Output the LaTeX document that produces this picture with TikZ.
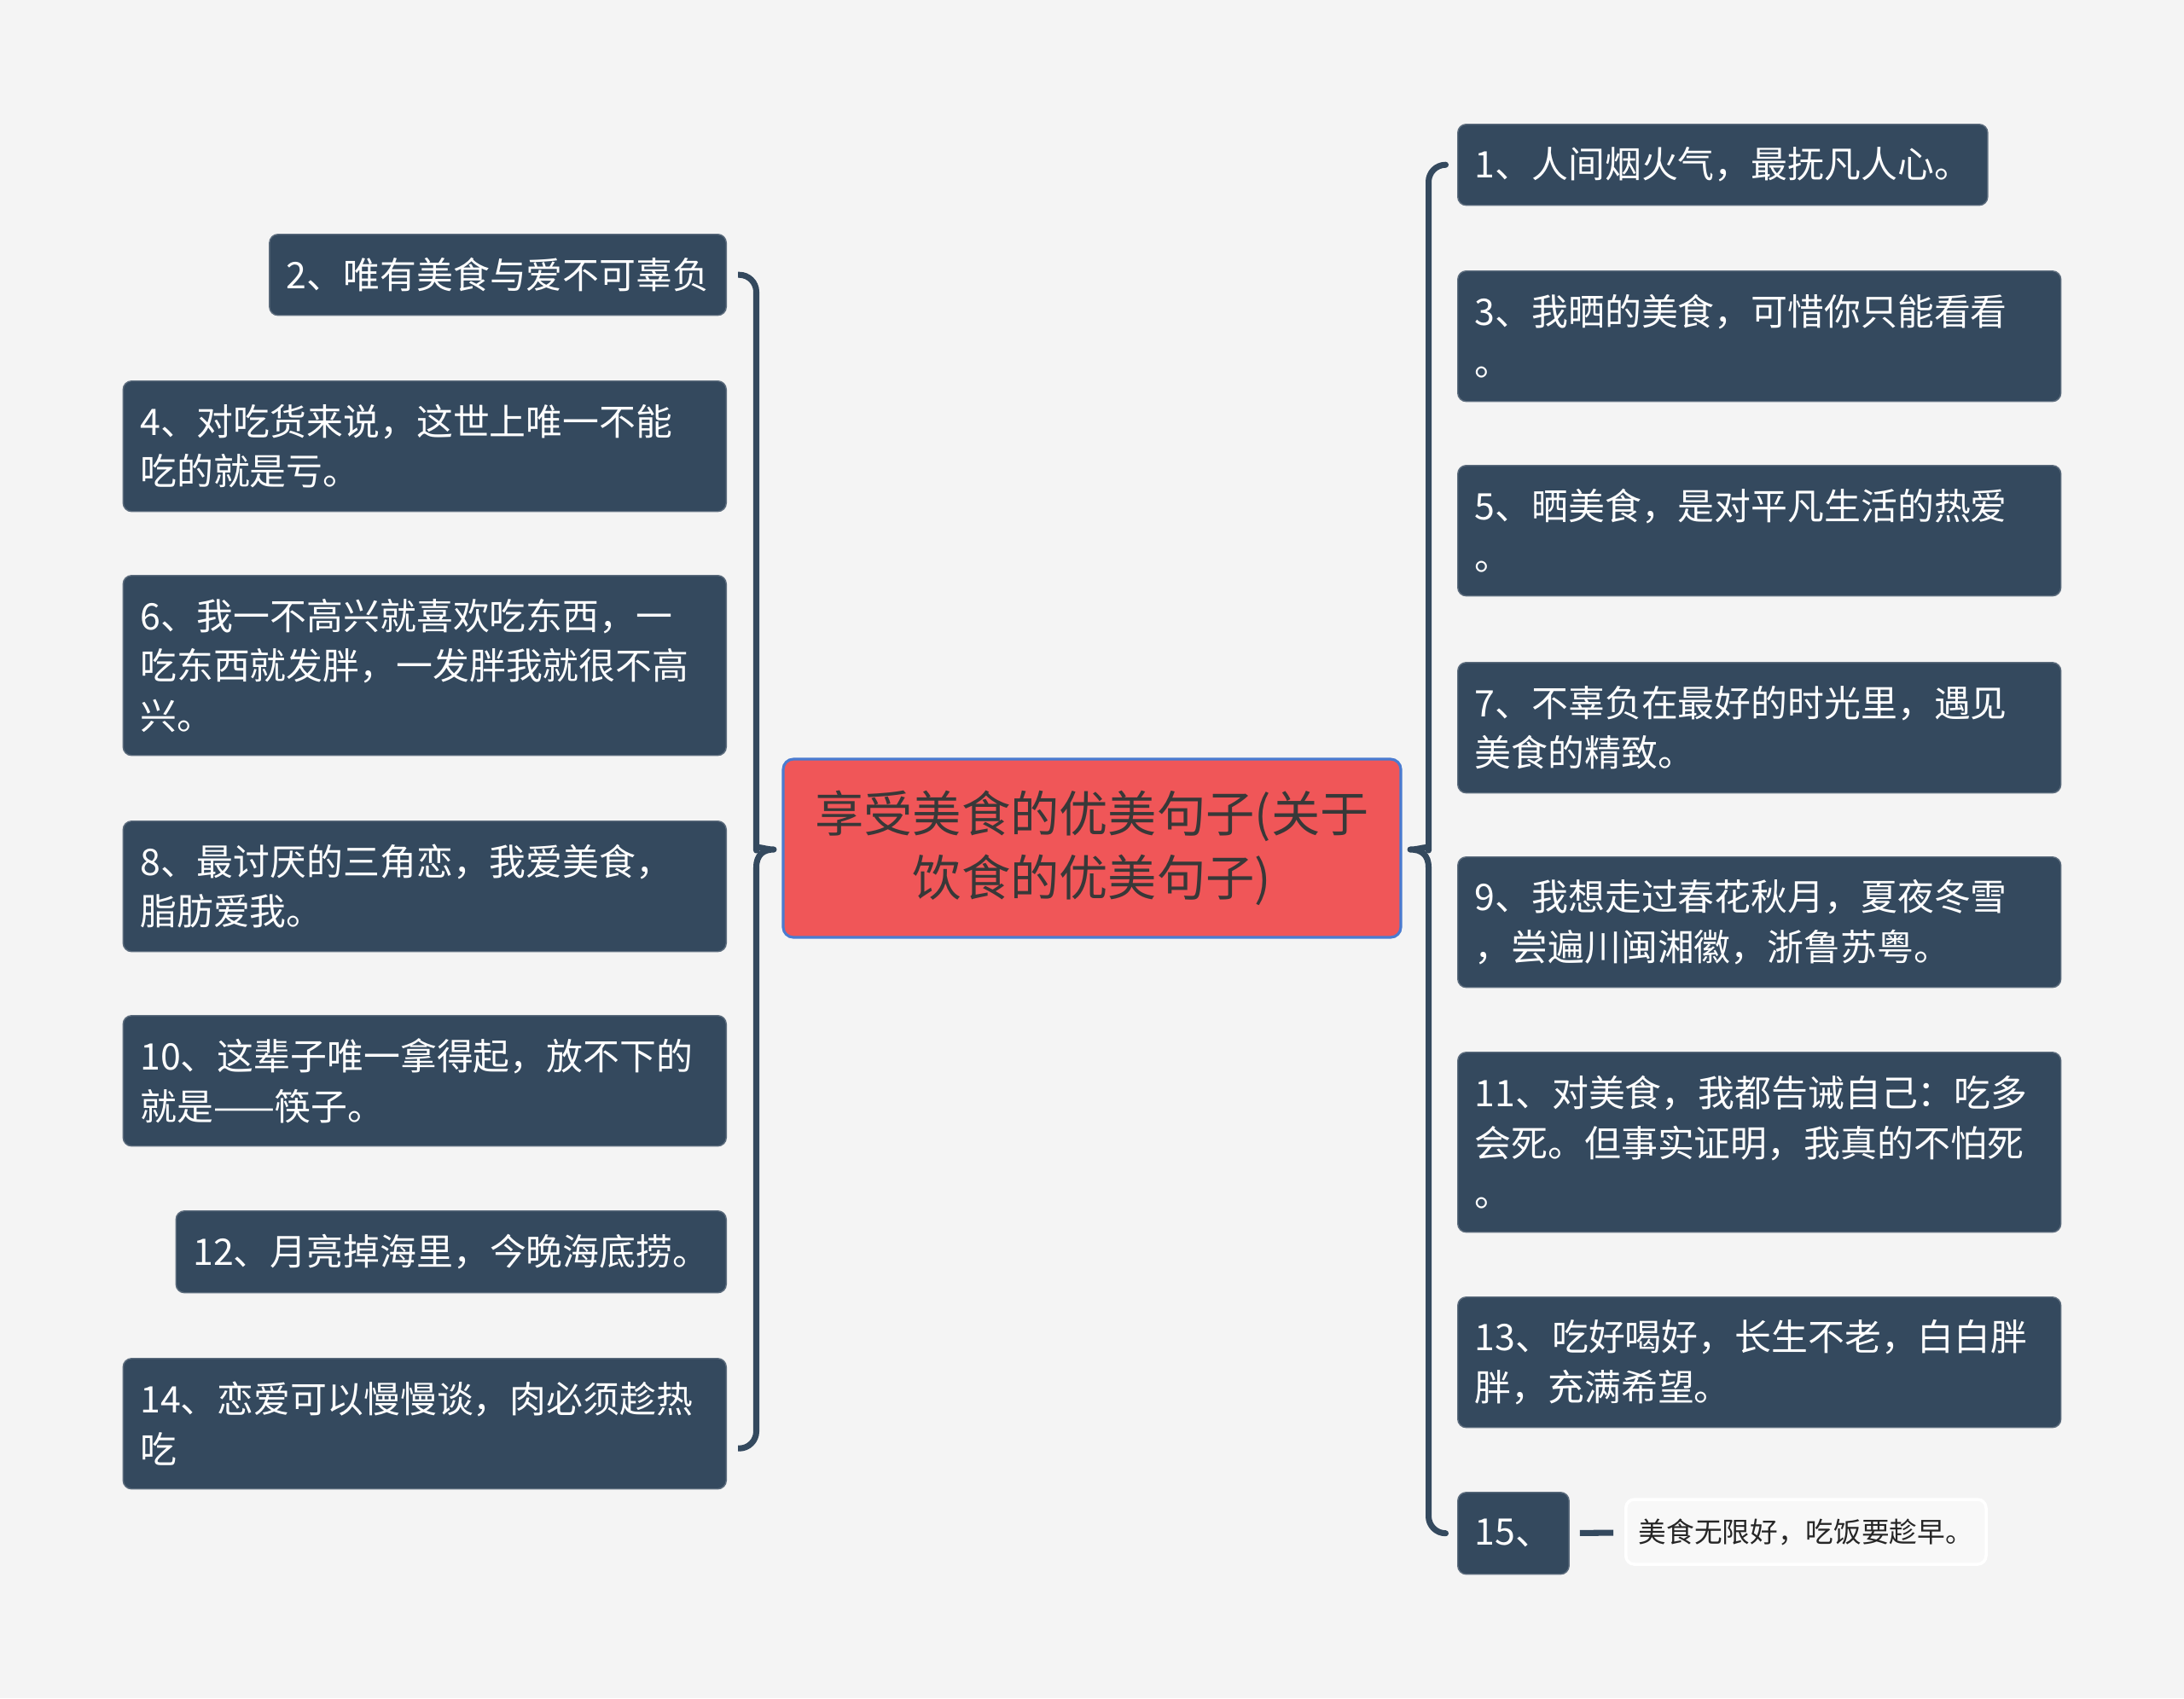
\documentclass[tikz,border=0pt]{standalone}
\usepackage{fontspec}
\setmainfont{Noto Sans CJK SC}
\usetikzlibrary{positioning,calc}
\definecolor{slate}{HTML}{34495E}
\definecolor{rootred}{HTML}{F05658}
\definecolor{rootblue}{HTML}{4A7BD0}
\definecolor{paper}{HTML}{F4F4F4}
\tikzset{foodbox/.style={fill=slate,draw=slate!80!white,rounded corners=0.1cm,text=white,align=left,inner xsep=0.2cm,inner ysep=0cm,font=\fontsize{12.2pt}{16.6pt}\selectfont},wide/.style={text width=6.67cm},foodroot/.style={fill=rootred,draw=rootblue,line width=0.9pt,rounded corners=0.12cm,text=black!78,align=center,minimum width=7.24cm,minimum height=2.09cm,font=\fontsize{16.3pt}{21.4pt}\selectfont},foodleaf/.style={fill=paper!60!white,draw=white,line width=1pt,rounded corners=0.1cm,text=black!85,inner xsep=0.15cm,minimum height=0.76cm,font=\fontsize{9.3pt}{11pt}\selectfont},foodline/.style={draw=slate,line width=2pt,line join=round}}
\begin{document}
\begin{tikzpicture}
\fill[paper] (0,0) rectangle (25.6,-19.91);
\useasboundingbox (0,0) rectangle (25.6,-19.91);
\node[foodroot] (root) at (12.8,-9.945) {享受美食的优美句子(关于\\饮食的优美句子)};
\node[foodbox,minimum height=0.95cm,anchor=north east] (n2) at (8.52,-2.74) {2、唯有美食与爱不可辜负};
\node[foodbox,wide,minimum height=1.53cm,anchor=north east] (n4) at (8.52,-4.46) {4、对吃货来说，这世上唯一不能\\吃的就是亏。};
\node[foodbox,wide,minimum height=2.11cm,anchor=north east] (n6) at (8.52,-6.74) {6、我一不高兴就喜欢吃东西，一\\吃东西就发胖，一发胖我就很不高\\兴。};
\node[foodbox,wide,minimum height=1.53cm,anchor=north east] (n8) at (8.52,-9.62) {8、最讨厌的三角恋，我爱美食，\\脂肪爱我。};
\node[foodbox,wide,minimum height=1.53cm,anchor=north east] (n10) at (8.52,-11.90) {10、这辈子唯一拿得起，放不下的\\就是——筷子。};
\node[foodbox,minimum height=0.96cm,anchor=north east] (n12) at (8.52,-14.19) {12、月亮掉海里，今晚海底捞。};
\node[foodbox,wide,minimum height=1.53cm,anchor=north east] (n14) at (8.52,-15.92) {14、恋爱可以慢慢谈，肉必须趁热\\吃};
\node[foodbox,minimum height=0.95cm,anchor=north west] (n1) at (17.08,-1.45) {1、人间烟火气，最抚凡人心。};
\node[foodbox,wide,minimum height=1.53cm,anchor=north west] (n3) at (17.08,-3.17) {3、我晒的美食，可惜你只能看看\\。};
\node[foodbox,wide,minimum height=1.53cm,anchor=north west] (n5) at (17.08,-5.45) {5、晒美食，是对平凡生活的热爱\\。};
\node[foodbox,wide,minimum height=1.53cm,anchor=north west] (n7) at (17.08,-7.76) {7、不辜负在最好的时光里，遇见\\美食的精致。};
\node[foodbox,wide,minimum height=1.53cm,anchor=north west] (n9) at (17.08,-10.04) {9、我想走过春花秋月，夏夜冬雪\\，尝遍川闽湘徽，浙鲁苏粤。};
\node[foodbox,wide,minimum height=2.11cm,anchor=north west] (n11) at (17.08,-12.33) {11、对美食，我都告诫自己：吃多\\会死。但事实证明，我真的不怕死\\。};
\node[foodbox,wide,minimum height=1.53cm,anchor=north west] (n13) at (17.08,-15.20) {13、吃好喝好，长生不老，白白胖\\胖，充满希望。};
\node[foodbox,minimum height=0.96cm,anchor=north west] (n15) at (17.08,-17.49) {15、};
\node[foodleaf,anchor=west] (leaf) at (19.04,-17.96) {美食无限好，吃饭要趁早。};
\draw[foodline] ([xshift=1.3mm]n2.east) [rounded corners=0.2cm] -| (8.865,-9.77) [sharp corners] .. controls (8.865,-9.90) and (8.95,-9.96) .. (9.07,-9.96) .. controls (8.95,-9.96) and (8.865,-10.02) .. (8.865,-10.17) [rounded corners=0.2cm] |- ([xshift=1.3mm,yshift=-2.9mm]n14.east);
\draw[foodline] ([xshift=-1.4mm]n1.west) [rounded corners=0.2cm] -| (16.745,-9.77) [sharp corners] .. controls (16.745,-9.90) and (16.66,-9.96) .. (16.53,-9.96) .. controls (16.66,-9.96) and (16.745,-10.02) .. (16.745,-10.17) [rounded corners=0.2cm] |- ([xshift=-1.4mm]n15.west);
\draw[foodline,shorten <=1.2mm,shorten >=1.3mm] (n15) -- (leaf);
\end{tikzpicture}
\end{document}
